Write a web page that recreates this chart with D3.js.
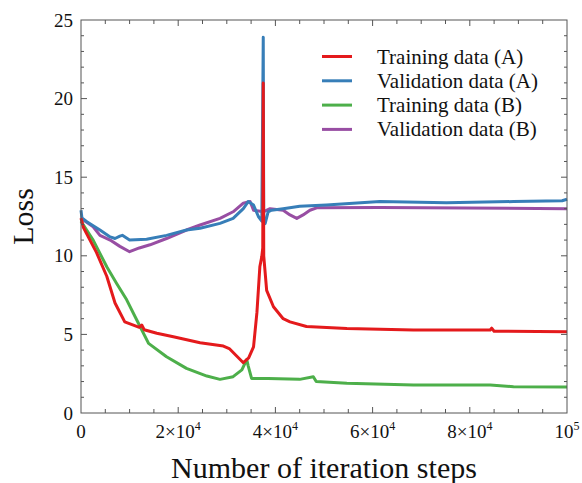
<!DOCTYPE html>
<html>
<head>
<meta charset="utf-8">
<script src="https://cdn.jsdelivr.net/npm/d3@7"></script>
<style>
  body { margin: 0; background: #fff; }
  svg text { font-family: "Liberation Serif", "Times New Roman", serif; fill: #111; }
</style>
</head>
<body>
<div id="chart"></div>
<script>
// [step, loss]
var trainA = [[0,12.4],[500,11.8],[1500,11.2],[3200,10.2],[5300,8.7],[7000,7.0],[9000,5.8],[12000,5.45],[12500,5.6],[13000,5.3],
  [15600,5.07],[19000,4.85],[24500,4.47],[29300,4.26],[30500,4.1],[33400,3.2],[34500,3.5],[35500,4.2],[36200,6.4],[36800,9.3],
  [37200,9.95],[37400,10.5],[37500,21],[37600,10],[37900,8.9],[38200,7.8],[39600,6.76],[41600,6.0],[43000,5.8],[46400,5.5],
  [54700,5.38],[68400,5.28],[84200,5.28],[84500,5.4],[85000,5.2],[100000,5.17]];
var validA = [[0,12.9],[200,12.4],[1200,12.17],[3900,11.64],[6000,11.2],[7000,11.1],[8000,11.25],[8500,11.3],[10000,11.0],[13500,11.05],
  [17600,11.3],[21700,11.64],[24500,11.75],[28600,12.06],[31300,12.38],[33400,13.0],[34400,13.45],[35500,13.23],[36500,12.5],[37200,12.2],
  [37500,23.9],[37600,12.0],[37900,12.06],[38500,12.8],[39200,12.9],[41600,13.0],[45000,13.15],[50500,13.23],[61500,13.45],[75200,13.38],
  [89000,13.45],[99000,13.5],[100000,13.6]];
var trainB = [[0,12.2],[2500,11.0],[5300,9.3],[7300,8.25],[9400,7.2],[11500,5.9],[13900,4.43],[17600,3.58],[21700,2.84],[25900,2.35],
  [28600,2.14],[31300,2.31],[33100,2.74],[34100,3.4],[34400,3.0],[35100,2.2],[38500,2.2],[45000,2.14],[47800,2.31],[48400,2.0],
  [54700,1.9],[68400,1.78],[84200,1.78],[89000,1.67],[100000,1.65]];
var validB = [[0,12.4],[500,12.28],[2500,11.85],[3900,11.3],[6000,11.0],[8000,10.6],[10000,10.26],[12000,10.5],[14200,10.7],[17600,11.1],
  [21700,11.64],[24500,11.96],[28600,12.38],[31300,12.8],[33400,13.35],[34800,13.45],[35500,12.9],[37500,12.8],[38900,13.0],[41600,12.9],
  [43000,12.6],[44400,12.38],[45700,12.6],[47100,12.9],[48500,13.05],[61500,13.08],[100000,13.0]];

var seriesNames = ['Training data (A)', 'Validation data (A)', 'Training data (B)', 'Validation data (B)'];
var seriesColors = ['#e41a1c', '#377eb8', '#4daf4a', '#984ea3'];
var xTickValues = [0, 20000, 40000, 60000, 80000, 100000];
var xTickLabels = ['0', '2×10|4', '4×10|4', '6×10|4', '8×10|4', '10|5'];
var yTickValues = [0, 5, 10, 15, 20, 25];

var width = 582, height = 483;
var margin = {top: 20, right: 15, bottom: 70, left: 81};

var svg = d3.select('#chart').append('svg')
  .attr('width', width)
  .attr('height', height);

var x = d3.scaleLinear().domain([0, 100000]).range([margin.left, width - margin.right]);
var y = d3.scaleLinear().domain([0, 25]).range([height - margin.bottom, margin.top]);

var line = d3.line()
  .x(function (d) { return x(d[0]); })
  .y(function (d) { return y(d[1]); });

// draw order: purple, blue, green, red (red spike sits over the blue one)
var allSeries = [trainA, validA, trainB, validB];
[3, 1, 2, 0].forEach(function (i) {
  svg.append('path')
    .datum(allSeries[i])
    .attr('fill', 'none')
    .attr('stroke', seriesColors[i])
    .attr('stroke-width', 3)
    .attr('stroke-linejoin', 'round')
    .attr('d', line);
});

// frame + inward ticks
var axisColor = '#555';
var x0 = margin.left, x1 = width - margin.right, y0 = height - margin.bottom, y1 = margin.top;
svg.append('rect')
  .attr('x', x0).attr('y', y1)
  .attr('width', x1 - x0).attr('height', y0 - y1)
  .attr('fill', 'none').attr('stroke', axisColor).attr('stroke-width', 1);

var xMinor = d3.range(5000, 100000, 5000);
var yMinor = d3.range(1, 25, 1);
var ticks = svg.append('g').attr('stroke', axisColor).attr('stroke-width', 1);
xMinor.forEach(function (v) {
  var len = (v % 20000 === 0) ? 6 : 4;
  ticks.append('line').attr('x1', x(v)).attr('x2', x(v)).attr('y1', y0).attr('y2', y0 - len);
  ticks.append('line').attr('x1', x(v)).attr('x2', x(v)).attr('y1', y1).attr('y2', y1 + len);
});
yMinor.forEach(function (v) {
  var len = (v % 5 === 0) ? 6 : 3;
  ticks.append('line').attr('y1', y(v)).attr('y2', y(v)).attr('x1', x0).attr('x2', x0 + len);
  ticks.append('line').attr('y1', y(v)).attr('y2', y(v)).attr('x1', x1).attr('x2', x1 - len);
});

// tick labels
yTickValues.forEach(function (v) {
  svg.append('text')
    .attr('x', x0 - 8).attr('y', y(v) + 6.5)
    .attr('text-anchor', 'end')
    .attr('font-size', 19)
    .text(v);
});
xTickValues.forEach(function (v, i) {
  var parts = xTickLabels[i].split('|');
  var t = svg.append('text')
    .attr('x', x(v)).attr('y', y0 + 25)
    .attr('text-anchor', 'middle')
    .attr('font-size', 19);
  t.append('tspan').text(parts[0]);
  if (parts[1]) {
    t.append('tspan').attr('font-size', 12).attr('dy', -8).text(parts[1]);
  }
});

// axis titles
svg.append('text')
  .attr('x', (x0 + x1) / 2).attr('y', 478)
  .attr('text-anchor', 'middle')
  .attr('font-size', 30)
  .text('Number of iteration steps');
svg.append('text')
  .attr('transform', 'translate(33,' + ((y0 + y1) / 2) + ') rotate(-90)')
  .attr('text-anchor', 'middle')
  .attr('font-size', 30)
  .text('Loss');

// legend
var legend = svg.append('g');
seriesNames.forEach(function (name, i) {
  var ly = 56.5 + i * 24.3;
  legend.append('line')
    .attr('x1', 322).attr('x2', 352)
    .attr('y1', ly).attr('y2', ly)
    .attr('stroke', seriesColors[i]).attr('stroke-width', 3);
  legend.append('text')
    .attr('x', 377).attr('y', ly + 7)
    .attr('font-size', 21)
    .text(name);
});
</script>
</body>
</html>
